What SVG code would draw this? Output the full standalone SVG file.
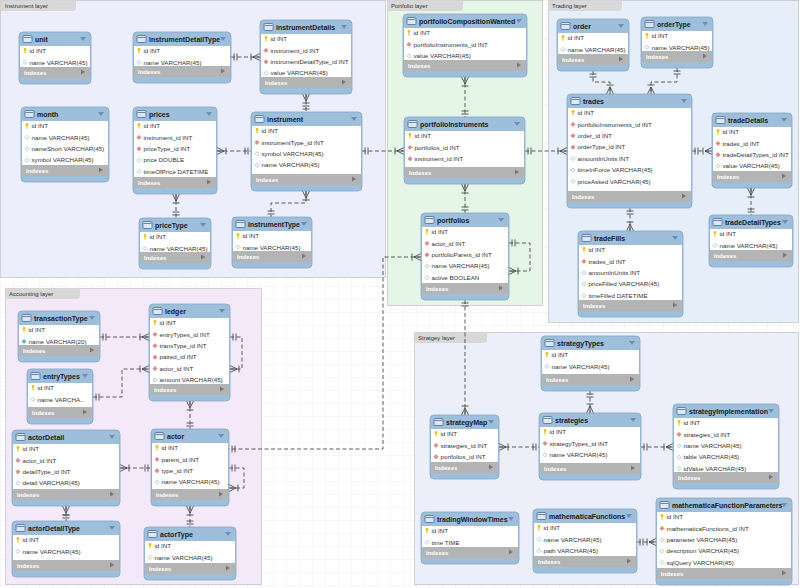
<svg xmlns="http://www.w3.org/2000/svg" xmlns:xlink="http://www.w3.org/1999/xlink" width="800" height="588" viewBox="0 0 800 588">
<style>
.ly{stroke:#c6c6c6;stroke-width:0.8}
.tab{fill:#d8d8d8}
.lt{font:6px "Liberation Sans",Arial,sans-serif;fill:#333}
.tb{fill:#9dbfdc;stroke:#86a8c6;stroke-width:0.8}
.bd{fill:#fff}
.ix{fill:#b4b4b4}
.tt{font:bold 7px "Liberation Sans",Arial,sans-serif;fill:#1a1a1a}
.r{font:6.2px "Liberation Sans",Arial,sans-serif;fill:#333}
.it{font:bold 6px "Liberation Sans",Arial,sans-serif;fill:#fff}
.dn{fill:#6d8eb0}
.ra{fill:#777}
.c{fill:none;stroke:#4a4a4a;stroke-width:0.9;stroke-dasharray:4 2.5}
.om{marker-start:url(#one);marker-end:url(#many)}
.mo{marker-start:url(#many);marker-end:url(#one)}
</style>
<defs>
<pattern id="grid" width="13" height="13" patternUnits="userSpaceOnUse"><path d="M13,0H0V13" fill="none" stroke="#e2e2e2" stroke-width="0.6"/></pattern>
<marker id="one" markerUnits="userSpaceOnUse" markerWidth="14" markerHeight="10" viewBox="-12 -5 14 10" refX="0" refY="0" orient="auto-start-reverse" overflow="visible">
<path d="M-3,-3.5V3.5M-6,-3.5V3.5" fill="none" stroke="#4a4a4a" stroke-width="0.9" stroke-dasharray="none"/>
</marker>
<marker id="many" markerUnits="userSpaceOnUse" markerWidth="14" markerHeight="10" viewBox="-12 -5 14 10" refX="0" refY="0" orient="auto-start-reverse" overflow="visible">
<path d="M-7,0L0,-3.5M-7,0H0M-7,0L0,3.5M-9,-3.5V3.5" fill="none" stroke="#4a4a4a" stroke-width="0.9" stroke-dasharray="none"/>
</marker>
<g id="ti"><rect width="9" height="7" rx="1" fill="#dde8f5" stroke="#4b6d99" stroke-width="0.8"/><path d="M0.5,2H8.5" stroke="#4b6d99" stroke-width="0.8"/></g>
<g id="pk"><circle cx="0" cy="-1.6" r="1.4" fill="#f0c000"/><rect x="-0.55" y="-1" width="1.1" height="3.6" fill="#f0c000"/></g>
<path id="fk" d="M0,-2.2L2.2,0L0,2.2L-2.2,0z" fill="#e08c8c" stroke="#c46a6a" stroke-width="0.4"/>
<path id="nn" d="M0,-2L2,0L0,2L-2,0z" fill="#fff" stroke="#8fb6c6" stroke-width="0.7"/>
<path id="uq" d="M0,-2.2L2.2,0L0,2.2L-2.2,0z" fill="#5bb8cc" stroke="#3e9ab0" stroke-width="0.4"/>
</defs>
<rect width="800" height="588" fill="#fff"/>
<rect width="800" height="588" fill="url(#grid)"/>

<g id="layers">
<rect class="ly" x="0.5" y="0.5" width="385" height="277" fill="#eceefb"/>
<path class="tab" d="M0.5,0.5H76V7Q76,11 72,11H0.5Z"/><text class="lt" x="5" y="7.5">Instrument layer</text>
<rect class="ly" x="387.5" y="0.5" width="155" height="305" fill="#e6f6e6"/>
<path class="tab" d="M387.5,0.5H463V7Q463,11 459,11H387.5Z"/><text class="lt" x="391" y="7.5">Portfolio layer</text>
<rect class="ly" x="548.5" y="0.5" width="250" height="322" fill="#e6eefa"/>
<path class="tab" d="M548.5,0.5H622V7Q622,11 618,11H548.5Z"/><text class="lt" x="552" y="7.5">Trading layer</text>
<rect class="ly" x="5.5" y="288.5" width="256" height="296" fill="#f4e9f9"/>
<path class="tab" d="M5.5,288.5H80V295Q80,299 76,299H5.5Z"/><text class="lt" x="9" y="296">Accounting layer</text>
<rect class="ly" x="414.5" y="332.5" width="384" height="252" fill="#eceefa"/>
<path class="tab" d="M414.5,332.5H487V339Q487,343 483,343H414.5Z"/><text class="lt" x="418" y="340">Stratgey layer</text>
</g>

<g id="connectors">
<path class="c om" d="M231,57H260"/>
<path class="c mo" d="M306,94V112"/>
<path class="c mo" d="M217,151H251"/>
<path class="c mo" d="M176,194V218"/>
<path class="c mo" d="M306,191V203H271V217"/>
<path class="c om" d="M362,151H404"/>
<path class="c mo" d="M465,77V117"/>
<path class="c om" d="M525,151H567"/>
<path class="c mo" d="M465,184V213"/>
<path class="c om" d="M509,243H530V271H509"/>
<path class="c mo" d="M421,257H383V449H229"/>
<path class="c om" d="M465,300V415"/>
<path class="c om" d="M593,71V82H610V94"/>
<path class="c om" d="M677,68V82H651V94"/>
<path class="c om" d="M692,151H712"/>
<path class="c mo" d="M751,188V215"/>
<path class="c om" d="M630,208V231"/>
<path class="c om" d="M100,337H149"/>
<path class="c om" d="M93,397H122V369H149"/>
<path class="c om" d="M230,337H242V369H230"/>
<path class="c mo" d="M190,401V429"/>
<path class="c mo" d="M120,468H151"/>
<path class="c om" d="M229,468H244V488H229"/>
<path class="c mo" d="M66,506V521"/>
<path class="c mo" d="M190,506V527"/>
<path class="c om" d="M590,391V413"/>
<path class="c mo" d="M499,447H539"/>
<path class="c om" d="M641,447H673"/>
<path class="c om" d="M637,542H656"/>
</g>

<g id="unit" transform="translate(19,32)">
<rect class="tb" width="72" height="52" rx="4"/><rect class="bd" x="1" y="14" width="70" height="21"/><rect class="ix" x="1" y="35" width="70" height="11"/>
<use href="#ti" x="4" y="3.5"/><text class="tt" x="16" y="10">unit</text><path class="dn" d="M61,5h6l-3,4z"/>
<use href="#pk" x="6" y="19"/><text class="r" x="10.5" y="21.2">id INT</text>
<use href="#nn" x="6" y="30.4"/><text class="r" x="10.5" y="32.6">name VARCHAR(45)</text>
<text class="it" x="5" y="43">Indexes</text><path class="ra" d="M62,37.5v5l4,-2.5z"/>
</g>

<g id="instrumentDetailType" transform="translate(133,32)">
<rect class="tb" width="98" height="51" rx="4"/><rect class="bd" x="1" y="14" width="96" height="20"/><rect class="ix" x="1" y="34" width="96" height="11"/>
<use href="#ti" x="4" y="3.5"/><text class="tt" x="16" y="10">instrumentDetailType</text><path class="dn" d="M87,5h6l-3,4z"/>
<use href="#pk" x="6" y="19"/><text class="r" x="10.5" y="21.2">id INT</text>
<use href="#nn" x="6" y="30.4"/><text class="r" x="10.5" y="32.6">name VARCHAR(45)</text>
<text class="it" x="5" y="42">Indexes</text><path class="ra" d="M88,36.5v5l4,-2.5z"/>
</g>

<g id="instrumentDetails" transform="translate(260,20)">
<rect class="tb" width="92" height="74" rx="4"/><rect class="bd" x="1" y="14" width="90" height="43"/><rect class="ix" x="1" y="57" width="90" height="11"/>
<use href="#ti" x="4" y="3.5"/><text class="tt" x="16" y="10">instrumentDetails</text><path class="dn" d="M81,5h6l-3,4z"/>
<use href="#pk" x="6" y="19"/><text class="r" x="10.5" y="21.2">id INT</text>
<use href="#fk" x="6" y="30.4"/><text class="r" x="10.5" y="32.6">instrument_id INT</text>
<use href="#fk" x="6" y="41.8"/><text class="r" x="10.5" y="44">instrumentDetailType_id INT</text>
<use href="#nn" x="6" y="53.2"/><text class="r" x="10.5" y="55.4">value VARCHAR(45)</text>
<text class="it" x="5" y="65">Indexes</text><path class="ra" d="M82,59.5v5l4,-2.5z"/>
</g>

<g id="month" transform="translate(21,107)">
<rect class="tb" width="88" height="75" rx="4"/><rect class="bd" x="1" y="14" width="86" height="44"/><rect class="ix" x="1" y="58" width="86" height="11"/>
<use href="#ti" x="4" y="3.5"/><text class="tt" x="16" y="10">month</text><path class="dn" d="M77,5h6l-3,4z"/>
<use href="#pk" x="6" y="19"/><text class="r" x="10.5" y="21.2">id INT</text>
<use href="#nn" x="6" y="30.4"/><text class="r" x="10.5" y="32.6">name VARCHAR(45)</text>
<use href="#nn" x="6" y="41.8"/><text class="r" x="10.5" y="44">nameShort VARCHAR(45)</text>
<use href="#nn" x="6" y="53.2"/><text class="r" x="10.5" y="55.4">symbol VARCHAR(45)</text>
<text class="it" x="5" y="66">Indexes</text><path class="ra" d="M78,60.5v5l4,-2.5z"/>
</g>

<g id="prices" transform="translate(133,107)">
<rect class="tb" width="84" height="87" rx="4"/><rect class="bd" x="1" y="14" width="82" height="56"/><rect class="ix" x="1" y="70" width="82" height="11"/>
<use href="#ti" x="4" y="3.5"/><text class="tt" x="16" y="10">prices</text><path class="dn" d="M73,5h6l-3,4z"/>
<use href="#pk" x="6" y="19"/><text class="r" x="10.5" y="21.2">id INT</text>
<use href="#fk" x="6" y="30.4"/><text class="r" x="10.5" y="32.6">instrument_id INT</text>
<use href="#fk" x="6" y="41.8"/><text class="r" x="10.5" y="44">priceType_id INT</text>
<use href="#nn" x="6" y="53.2"/><text class="r" x="10.5" y="55.4">price DOUBLE</text>
<use href="#nn" x="6" y="64.6"/><text class="r" x="10.5" y="66.8">timeOfPrice DATETIME</text>
<text class="it" x="5" y="78">Indexes</text><path class="ra" d="M74,72.5v5l4,-2.5z"/>
</g>

<g id="priceType" transform="translate(139,218)">
<rect class="tb" width="72" height="51" rx="4"/><rect class="bd" x="1" y="14" width="70" height="20"/><rect class="ix" x="1" y="34" width="70" height="11"/>
<use href="#ti" x="4" y="3.5"/><text class="tt" x="16" y="10">priceType</text><path class="dn" d="M61,5h6l-3,4z"/>
<use href="#pk" x="6" y="19"/><text class="r" x="10.5" y="21.2">id INT</text>
<use href="#nn" x="6" y="30.4"/><text class="r" x="10.5" y="32.6">name VARCHAR(45)</text>
<text class="it" x="5" y="42">Indexes</text><path class="ra" d="M62,36.5v5l4,-2.5z"/>
</g>

<g id="instrument" transform="translate(251,112)">
<rect class="tb" width="111" height="79" rx="4"/><rect class="bd" x="1" y="14" width="109" height="48"/><rect class="ix" x="1" y="62" width="109" height="11"/>
<use href="#ti" x="4" y="3.5"/><text class="tt" x="16" y="10">instrument</text><path class="dn" d="M100,5h6l-3,4z"/>
<use href="#pk" x="6" y="19"/><text class="r" x="10.5" y="21.2">id INT</text>
<use href="#fk" x="6" y="30.4"/><text class="r" x="10.5" y="32.6">instrumentType_id INT</text>
<use href="#nn" x="6" y="41.8"/><text class="r" x="10.5" y="44">symbol VARCHAR(45)</text>
<use href="#nn" x="6" y="53.2"/><text class="r" x="10.5" y="55.4">name VARCHAR(45)</text>
<text class="it" x="5" y="70">Indexes</text><path class="ra" d="M101,64.5v5l4,-2.5z"/>
</g>

<g id="instrumentType" transform="translate(232,217)">
<rect class="tb" width="80" height="51" rx="4"/><rect class="bd" x="1" y="14" width="78" height="20"/><rect class="ix" x="1" y="34" width="78" height="11"/>
<use href="#ti" x="4" y="3.5"/><text class="tt" x="16" y="10">instrumentType</text><path class="dn" d="M69,5h6l-3,4z"/>
<use href="#pk" x="6" y="19"/><text class="r" x="10.5" y="21.2">id INT</text>
<use href="#nn" x="6" y="30.4"/><text class="r" x="10.5" y="32.6">name VARCHAR(45)</text>
<text class="it" x="5" y="42">Indexes</text><path class="ra" d="M70,36.5v5l4,-2.5z"/>
</g>

<g id="portfolioCompositionWanted" transform="translate(403,14)">
<rect class="tb" width="124" height="63" rx="4"/><rect class="bd" x="1" y="14" width="122" height="32"/><rect class="ix" x="1" y="46" width="122" height="11"/>
<use href="#ti" x="4" y="3.5"/><text class="tt" x="16" y="10">portfolioCompositionWanted</text><path class="dn" d="M113,5h6l-3,4z"/>
<use href="#pk" x="6" y="19"/><text class="r" x="10.5" y="21.2">id INT</text>
<use href="#fk" x="6" y="30.4"/><text class="r" x="10.5" y="32.6">portfolioInstruments_id INT</text>
<use href="#nn" x="6" y="41.8"/><text class="r" x="10.5" y="44">value VARCHAR(45)</text>
<text class="it" x="5" y="54">Indexes</text><path class="ra" d="M114,48.5v5l4,-2.5z"/>
</g>

<g id="portfolioInstruments" transform="translate(404,117)">
<rect class="tb" width="121" height="67" rx="4"/><rect class="bd" x="1" y="14" width="119" height="36"/><rect class="ix" x="1" y="50" width="119" height="11"/>
<use href="#ti" x="4" y="3.5"/><text class="tt" x="16" y="10">portfolioInstruments</text><path class="dn" d="M110,5h6l-3,4z"/>
<use href="#pk" x="6" y="19"/><text class="r" x="10.5" y="21.2">id INT</text>
<use href="#fk" x="6" y="30.4"/><text class="r" x="10.5" y="32.6">portfolios_id INT</text>
<use href="#fk" x="6" y="41.8"/><text class="r" x="10.5" y="44">instrument_id INT</text>
<text class="it" x="5" y="58">Indexes</text><path class="ra" d="M111,52.5v5l4,-2.5z"/>
</g>

<g id="portfolios" transform="translate(421,213)">
<rect class="tb" width="88" height="87" rx="4"/><rect class="bd" x="1" y="14" width="86" height="56"/><rect class="ix" x="1" y="70" width="86" height="11"/>
<use href="#ti" x="4" y="3.5"/><text class="tt" x="16" y="10">portfolios</text><path class="dn" d="M77,5h6l-3,4z"/>
<use href="#pk" x="6" y="19"/><text class="r" x="10.5" y="21.2">id INT</text>
<use href="#fk" x="6" y="30.4"/><text class="r" x="10.5" y="32.6">actor_id INT</text>
<use href="#fk" x="6" y="41.8"/><text class="r" x="10.5" y="44">portfolioParent_id INT</text>
<use href="#nn" x="6" y="53.2"/><text class="r" x="10.5" y="55.4">name VARCHAR(45)</text>
<use href="#nn" x="6" y="64.6"/><text class="r" x="10.5" y="66.8">active BOOLEAN</text>
<text class="it" x="5" y="78">Indexes</text><path class="ra" d="M78,72.5v5l4,-2.5z"/>
</g>

<g id="order" transform="translate(557,19)">
<rect class="tb" width="72" height="52" rx="4"/><rect class="bd" x="1" y="14" width="70" height="21"/><rect class="ix" x="1" y="35" width="70" height="11"/>
<use href="#ti" x="4" y="3.5"/><text class="tt" x="16" y="10">order</text><path class="dn" d="M61,5h6l-3,4z"/>
<use href="#pk" x="6" y="19"/><text class="r" x="10.5" y="21.2">id INT</text>
<use href="#nn" x="6" y="30.4"/><text class="r" x="10.5" y="32.6">name VARCHAR(45)</text>
<text class="it" x="5" y="43">Indexes</text><path class="ra" d="M62,37.5v5l4,-2.5z"/>
</g>

<g id="orderType" transform="translate(641,17)">
<rect class="tb" width="72" height="51" rx="4"/><rect class="bd" x="1" y="14" width="70" height="20"/><rect class="ix" x="1" y="34" width="70" height="11"/>
<use href="#ti" x="4" y="3.5"/><text class="tt" x="16" y="10">orderType</text><path class="dn" d="M61,5h6l-3,4z"/>
<use href="#pk" x="6" y="19"/><text class="r" x="10.5" y="21.2">id INT</text>
<use href="#nn" x="6" y="30.4"/><text class="r" x="10.5" y="32.6">name VARCHAR(45)</text>
<text class="it" x="5" y="42">Indexes</text><path class="ra" d="M62,36.5v5l4,-2.5z"/>
</g>

<g id="trades" transform="translate(567,94)">
<rect class="tb" width="125" height="114" rx="4"/><rect class="bd" x="1" y="14" width="123" height="83"/><rect class="ix" x="1" y="97" width="123" height="11"/>
<use href="#ti" x="4" y="3.5"/><text class="tt" x="16" y="10">trades</text><path class="dn" d="M114,5h6l-3,4z"/>
<use href="#pk" x="6" y="19"/><text class="r" x="10.5" y="21.2">id INT</text>
<use href="#fk" x="6" y="30.4"/><text class="r" x="10.5" y="32.6">portfolioInstruments_id INT</text>
<use href="#fk" x="6" y="41.8"/><text class="r" x="10.5" y="44">order_id INT</text>
<use href="#fk" x="6" y="53.2"/><text class="r" x="10.5" y="55.4">orderType_id INT</text>
<use href="#nn" x="6" y="64.6"/><text class="r" x="10.5" y="66.8">amountInUnits INT</text>
<use href="#nn" x="6" y="76"/><text class="r" x="10.5" y="78.2">timeInForce VARCHAR(45)</text>
<use href="#nn" x="6" y="87.4"/><text class="r" x="10.5" y="89.6">priceAsked VARCHAR(45)</text>
<text class="it" x="5" y="105">Indexes</text><path class="ra" d="M115,99.5v5l4,-2.5z"/>
</g>

<g id="tradeDetails" transform="translate(712,113)">
<rect class="tb" width="80" height="75" rx="4"/><rect class="bd" x="1" y="14" width="78" height="44"/><rect class="ix" x="1" y="58" width="78" height="11"/>
<use href="#ti" x="4" y="3.5"/><text class="tt" x="16" y="10">tradeDetails</text><path class="dn" d="M69,5h6l-3,4z"/>
<use href="#pk" x="6" y="19"/><text class="r" x="10.5" y="21.2">id INT</text>
<use href="#fk" x="6" y="30.4"/><text class="r" x="10.5" y="32.6">trades_id INT</text>
<use href="#fk" x="6" y="41.8"/><text class="r" x="10.5" y="44">tradeDetailTypes_id INT</text>
<use href="#nn" x="6" y="53.2"/><text class="r" x="10.5" y="55.4">value VARCHAR(45)</text>
<text class="it" x="5" y="66">Indexes</text><path class="ra" d="M70,60.5v5l4,-2.5z"/>
</g>

<g id="tradeDetailTypes" transform="translate(709,215)">
<rect class="tb" width="84" height="52" rx="4"/><rect class="bd" x="1" y="14" width="82" height="21"/><rect class="ix" x="1" y="35" width="82" height="11"/>
<use href="#ti" x="4" y="3.5"/><text class="tt" x="16" y="10">tradeDetailTypes</text><path class="dn" d="M73,5h6l-3,4z"/>
<use href="#pk" x="6" y="19"/><text class="r" x="10.5" y="21.2">id INT</text>
<use href="#nn" x="6" y="30.4"/><text class="r" x="10.5" y="32.6">name VARCHAR(45)</text>
<text class="it" x="5" y="43">Indexes</text><path class="ra" d="M74,37.5v5l4,-2.5z"/>
</g>

<g id="tradeFills" transform="translate(578,231)">
<rect class="tb" width="105" height="86" rx="4"/><rect class="bd" x="1" y="14" width="103" height="55"/><rect class="ix" x="1" y="69" width="103" height="11"/>
<use href="#ti" x="4" y="3.5"/><text class="tt" x="16" y="10">tradeFills</text><path class="dn" d="M94,5h6l-3,4z"/>
<use href="#pk" x="6" y="19"/><text class="r" x="10.5" y="21.2">id INT</text>
<use href="#fk" x="6" y="30.4"/><text class="r" x="10.5" y="32.6">trades_id INT</text>
<use href="#nn" x="6" y="41.8"/><text class="r" x="10.5" y="44">amountInUnits INT</text>
<use href="#nn" x="6" y="53.2"/><text class="r" x="10.5" y="55.4">priceFilled VARCHAR(45)</text>
<use href="#nn" x="6" y="64.6"/><text class="r" x="10.5" y="66.8">timeFilled DATETIME</text>
<text class="it" x="5" y="77">Indexes</text><path class="ra" d="M95,71.5v5l4,-2.5z"/>
</g>

<g id="transactionType" transform="translate(18,311)">
<rect class="tb" width="82" height="51" rx="4"/><rect class="bd" x="1" y="14" width="80" height="20"/><rect class="ix" x="1" y="34" width="80" height="11"/>
<use href="#ti" x="4" y="3.5"/><text class="tt" x="16" y="10">transactionType</text><path class="dn" d="M71,5h6l-3,4z"/>
<use href="#pk" x="6" y="19"/><text class="r" x="10.5" y="21.2">id INT</text>
<use href="#uq" x="6" y="30.4"/><text class="r" x="10.5" y="32.6">name VARCHAR(20)</text>
<text class="it" x="5" y="42">Indexes</text><path class="ra" d="M72,36.5v5l4,-2.5z"/>
</g>

<g id="ledger" transform="translate(149,304)">
<rect class="tb" width="81" height="97" rx="4"/><rect class="bd" x="1" y="14" width="79" height="66"/><rect class="ix" x="1" y="80" width="79" height="11"/>
<use href="#ti" x="4" y="3.5"/><text class="tt" x="16" y="10">ledger</text><path class="dn" d="M70,5h6l-3,4z"/>
<use href="#pk" x="6" y="19"/><text class="r" x="10.5" y="21.2">id INT</text>
<use href="#fk" x="6" y="30.4"/><text class="r" x="10.5" y="32.6">entryTypes_id INT</text>
<use href="#fk" x="6" y="41.8"/><text class="r" x="10.5" y="44">transType_id INT</text>
<use href="#fk" x="6" y="53.2"/><text class="r" x="10.5" y="55.4">paired_id INT</text>
<use href="#fk" x="6" y="64.6"/><text class="r" x="10.5" y="66.8">actor_id INT</text>
<use href="#nn" x="6" y="76"/><text class="r" x="10.5" y="78.2">amount VARCHAR(45)</text>
<text class="it" x="5" y="88">Indexes</text><path class="ra" d="M71,82.5v5l4,-2.5z"/>
</g>

<g id="entryTypes" transform="translate(27,369)">
<rect class="tb" width="66" height="55" rx="4"/><rect class="bd" x="1" y="14" width="64" height="24"/><rect class="ix" x="1" y="38" width="64" height="11"/>
<use href="#ti" x="4" y="3.5"/><text class="tt" x="16" y="10">entryTypes</text><path class="dn" d="M55,5h6l-3,4z"/>
<use href="#pk" x="6" y="19"/><text class="r" x="10.5" y="21.2">id INT</text>
<use href="#nn" x="6" y="30.4"/><text class="r" x="10.5" y="32.6">name VARCHA...</text>
<text class="it" x="5" y="46">Indexes</text><path class="ra" d="M56,40.5v5l4,-2.5z"/>
</g>

<g id="actorDetail" transform="translate(12,430)">
<rect class="tb" width="108" height="76" rx="4"/><rect class="bd" x="1" y="14" width="106" height="45"/><rect class="ix" x="1" y="59" width="106" height="11"/>
<use href="#ti" x="4" y="3.5"/><text class="tt" x="16" y="10">actorDetail</text><path class="dn" d="M97,5h6l-3,4z"/>
<use href="#pk" x="6" y="19"/><text class="r" x="10.5" y="21.2">id INT</text>
<use href="#fk" x="6" y="30.4"/><text class="r" x="10.5" y="32.6">actor_id INT</text>
<use href="#fk" x="6" y="41.8"/><text class="r" x="10.5" y="44">detailType_id INT</text>
<use href="#nn" x="6" y="53.2"/><text class="r" x="10.5" y="55.4">detail VARCHAR(45)</text>
<text class="it" x="5" y="67">Indexes</text><path class="ra" d="M98,61.5v5l4,-2.5z"/>
</g>

<g id="actor" transform="translate(151,429)">
<rect class="tb" width="78" height="77" rx="4"/><rect class="bd" x="1" y="14" width="76" height="46"/><rect class="ix" x="1" y="60" width="76" height="11"/>
<use href="#ti" x="4" y="3.5"/><text class="tt" x="16" y="10">actor</text><path class="dn" d="M67,5h6l-3,4z"/>
<use href="#pk" x="6" y="19"/><text class="r" x="10.5" y="21.2">id INT</text>
<use href="#fk" x="6" y="30.4"/><text class="r" x="10.5" y="32.6">parent_id INT</text>
<use href="#fk" x="6" y="41.8"/><text class="r" x="10.5" y="44">type_id INT</text>
<use href="#nn" x="6" y="53.2"/><text class="r" x="10.5" y="55.4">name VARCHAR(45)</text>
<text class="it" x="5" y="68">Indexes</text><path class="ra" d="M68,62.5v5l4,-2.5z"/>
</g>

<g id="actorDetailType" transform="translate(12,521)">
<rect class="tb" width="108" height="56" rx="4"/><rect class="bd" x="1" y="14" width="106" height="25"/><rect class="ix" x="1" y="39" width="106" height="11"/>
<use href="#ti" x="4" y="3.5"/><text class="tt" x="16" y="10">actorDetailType</text><path class="dn" d="M97,5h6l-3,4z"/>
<use href="#pk" x="6" y="19"/><text class="r" x="10.5" y="21.2">id INT</text>
<use href="#nn" x="6" y="30.4"/><text class="r" x="10.5" y="32.6">name VARCHAR(45)</text>
<text class="it" x="5" y="47">Indexes</text><path class="ra" d="M98,41.5v5l4,-2.5z"/>
</g>

<g id="actorType" transform="translate(144,527)">
<rect class="tb" width="92" height="53" rx="4"/><rect class="bd" x="1" y="14" width="90" height="22"/><rect class="ix" x="1" y="36" width="90" height="11"/>
<use href="#ti" x="4" y="3.5"/><text class="tt" x="16" y="10">actorType</text><path class="dn" d="M81,5h6l-3,4z"/>
<use href="#pk" x="6" y="19"/><text class="r" x="10.5" y="21.2">id INT</text>
<use href="#nn" x="6" y="30.4"/><text class="r" x="10.5" y="32.6">name VARCHAR(45)</text>
<text class="it" x="5" y="44">Indexes</text><path class="ra" d="M82,38.5v5l4,-2.5z"/>
</g>

<g id="strategyTypes" transform="translate(541,336)">
<rect class="tb" width="99" height="55" rx="4"/><rect class="bd" x="1" y="14" width="97" height="24"/><rect class="ix" x="1" y="38" width="97" height="11"/>
<use href="#ti" x="4" y="3.5"/><text class="tt" x="16" y="10">strategyTypes</text><path class="dn" d="M88,5h6l-3,4z"/>
<use href="#pk" x="6" y="19"/><text class="r" x="10.5" y="21.2">id INT</text>
<use href="#nn" x="6" y="30.4"/><text class="r" x="10.5" y="32.6">name VARCHAR(45)</text>
<text class="it" x="5" y="46">Indexes</text><path class="ra" d="M89,40.5v5l4,-2.5z"/>
</g>

<g id="strategyMap" transform="translate(430,415)">
<rect class="tb" width="69" height="64" rx="4"/><rect class="bd" x="1" y="14" width="67" height="33"/><rect class="ix" x="1" y="47" width="67" height="11"/>
<use href="#ti" x="4" y="3.5"/><text class="tt" x="16" y="10">strategyMap</text><path class="dn" d="M58,5h6l-3,4z"/>
<use href="#pk" x="6" y="19"/><text class="r" x="10.5" y="21.2">id INT</text>
<use href="#fk" x="6" y="30.4"/><text class="r" x="10.5" y="32.6">strategies_id INT</text>
<use href="#fk" x="6" y="41.8"/><text class="r" x="10.5" y="44">portfolios_id INT</text>
<text class="it" x="5" y="55">Indexes</text><path class="ra" d="M59,49.5v5l4,-2.5z"/>
</g>

<g id="strategies" transform="translate(539,413)">
<rect class="tb" width="102" height="67" rx="4"/><rect class="bd" x="1" y="14" width="100" height="36"/><rect class="ix" x="1" y="50" width="100" height="11"/>
<use href="#ti" x="4" y="3.5"/><text class="tt" x="16" y="10">strategies</text><path class="dn" d="M91,5h6l-3,4z"/>
<use href="#pk" x="6" y="19"/><text class="r" x="10.5" y="21.2">id INT</text>
<use href="#fk" x="6" y="30.4"/><text class="r" x="10.5" y="32.6">strategyTypes_id INT</text>
<use href="#nn" x="6" y="41.8"/><text class="r" x="10.5" y="44">name VARCHAR(45)</text>
<text class="it" x="5" y="58">Indexes</text><path class="ra" d="M92,52.5v5l4,-2.5z"/>
</g>

<g id="strategyImplementation" transform="translate(673,404)">
<rect class="tb" width="106" height="85" rx="4"/><rect class="bd" x="1" y="14" width="104" height="54"/><rect class="ix" x="1" y="68" width="104" height="11"/>
<use href="#ti" x="4" y="3.5"/><text class="tt" x="16" y="10">strategyImplementation</text><path class="dn" d="M95,5h6l-3,4z"/>
<use href="#pk" x="6" y="19"/><text class="r" x="10.5" y="21.2">id INT</text>
<use href="#fk" x="6" y="30.4"/><text class="r" x="10.5" y="32.6">strategies_id INT</text>
<use href="#nn" x="6" y="41.8"/><text class="r" x="10.5" y="44">name VARCHAR(45)</text>
<use href="#nn" x="6" y="53.2"/><text class="r" x="10.5" y="55.4">table VARCHAR(45)</text>
<use href="#nn" x="6" y="64.6"/><text class="r" x="10.5" y="66.8">idValue VARCHAR(45)</text>
<text class="it" x="5" y="76">Indexes</text><path class="ra" d="M96,70.5v5l4,-2.5z"/>
</g>

<g id="tradingWindowTimes" transform="translate(421,512)">
<rect class="tb" width="98" height="52" rx="4"/><rect class="bd" x="1" y="14" width="96" height="21"/><rect class="ix" x="1" y="35" width="96" height="11"/>
<use href="#ti" x="4" y="3.5"/><text class="tt" x="16" y="10">tradingWindowTimes</text><path class="dn" d="M87,5h6l-3,4z"/>
<use href="#pk" x="6" y="19"/><text class="r" x="10.5" y="21.2">id INT</text>
<use href="#nn" x="6" y="30.4"/><text class="r" x="10.5" y="32.6">time TIME</text>
<text class="it" x="5" y="43">Indexes</text><path class="ra" d="M88,37.5v5l4,-2.5z"/>
</g>

<g id="mathematicaFunctions" transform="translate(533,509)">
<rect class="tb" width="104" height="64" rx="4"/><rect class="bd" x="1" y="14" width="102" height="33"/><rect class="ix" x="1" y="47" width="102" height="11"/>
<use href="#ti" x="4" y="3.5"/><text class="tt" x="16" y="10">mathematicaFunctions</text><path class="dn" d="M93,5h6l-3,4z"/>
<use href="#pk" x="6" y="19"/><text class="r" x="10.5" y="21.2">id INT</text>
<use href="#nn" x="6" y="30.4"/><text class="r" x="10.5" y="32.6">name VARCHAR(45)</text>
<use href="#nn" x="6" y="41.8"/><text class="r" x="10.5" y="44">path VARCHAR(45)</text>
<text class="it" x="5" y="55">Indexes</text><path class="ra" d="M94,49.5v5l4,-2.5z"/>
</g>

<g id="mathematicaFunctionParameters" transform="translate(656,498)">
<rect class="tb" width="136" height="87" rx="4"/><rect class="bd" x="1" y="14" width="134" height="56"/><rect class="ix" x="1" y="70" width="134" height="11"/>
<use href="#ti" x="4" y="3.5"/><text class="tt" x="16" y="10">mathematicaFunctionParameters</text><path class="dn" d="M125,5h6l-3,4z"/>
<use href="#pk" x="6" y="19"/><text class="r" x="10.5" y="21.2">id INT</text>
<use href="#fk" x="6" y="30.4"/><text class="r" x="10.5" y="32.6">mathematicaFunctions_id INT</text>
<use href="#nn" x="6" y="41.8"/><text class="r" x="10.5" y="44">parameter VARCHAR(45)</text>
<use href="#nn" x="6" y="53.2"/><text class="r" x="10.5" y="55.4">description VARCHAR(45)</text>
<use href="#nn" x="6" y="64.6"/><text class="r" x="10.5" y="66.8">sqlQuery VARCHAR(45)</text>
<text class="it" x="5" y="78">Indexes</text><path class="ra" d="M126,72.5v5l4,-2.5z"/>
</g>
</svg>
